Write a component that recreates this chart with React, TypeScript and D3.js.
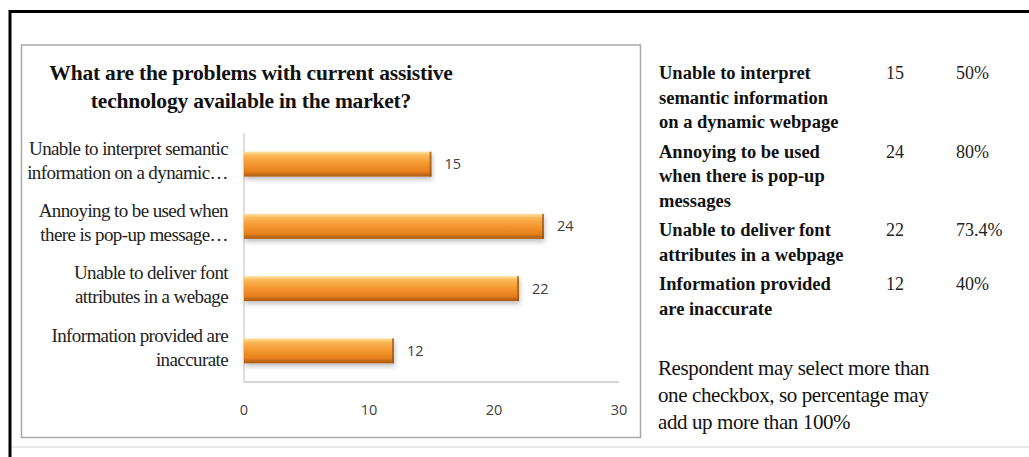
import React from "react";
import * as d3 from "d3";

const titleLines = [
  "What are the problems with current assistive",
  "technology available in the market?",
];
const categories = ["c1", "c2", "c3", "c4"];
const categoryLabels = [
  ["Unable to interpret semantic", "information on a dynamic…"],
  ["Annoying to be used when", "there is pop-up message…"],
  ["Unable to deliver font", "attributes in a webage"],
  ["Information provided are", "inaccurate"],
];
const values = [15, 24, 22, 12];
const xTicks = [0, 10, 20, 30];

const tableLabels = [
  ["Unable to interpret", "semantic information", "on a dynamic webpage"],
  ["Annoying to be used", "when there is pop-up", "messages"],
  ["Unable to deliver font", "attributes in a webpage"],
  ["Information provided", "are inaccurate"],
];
const tableCounts = [15, 24, 22, 12];
const tablePercents = ["50%", "80%", "73.4%", "40%"];
const noteLines = [
  "Respondent may select more than",
  "one checkbox, so percentage may",
  "add up more than 100%",
];

const W = 1029;
const H = 457;
const serif = "'Liberation Serif', 'DejaVu Serif', serif";
const sans = "'Open Sans', 'Liberation Sans', sans-serif";

export default function App() {
  const x = d3.scaleLinear().domain([0, 30]).range([244, 619]);
  const y = d3
    .scaleBand<string>()
    .domain(categories)
    .range([133, 382])
    .paddingInner(0.6)
    .paddingOuter(0.3);
  const bw = y.bandwidth();

  // table layout
  const tableTop = 73;
  const lineH = 24.5;
  const itemGap = 5;
  let cursor = 0;
  const tableRows = tableLabels.map((lines, i) => {
    const start = cursor;
    cursor += lines.length;
    return { lines, start, i };
  });
  const rowY = (start: number, i: number, j: number) =>
    tableTop + (start + j) * lineH + i * itemGap;

  return (
    <svg
      width={W}
      height={H}
      style={{ position: "absolute", left: 0, top: 0, background: "#fff" }}
    >
      <defs>
        <linearGradient id="barGrad" x1="0" y1="0" x2="0" y2="1">
          <stop offset="0%" stopColor="#fde3a0" />
          <stop offset="15%" stopColor="#fbb858" />
          <stop offset="45%" stopColor="#f59a32" />
          <stop offset="80%" stopColor="#e57f1c" />
          <stop offset="100%" stopColor="#a65812" />
        </linearGradient>
        <filter id="shadow" x="-5%" y="-30%" width="115%" height="180%">
          <feGaussianBlur in="SourceAlpha" stdDeviation="2.5" />
          <feOffset dx="1" dy="3" result="b" />
          <feComponentTransfer>
            <feFuncA type="linear" slope="0.25" />
          </feComponentTransfer>
          <feMerge>
            <feMergeNode />
            <feMergeNode in="SourceGraphic" />
          </feMerge>
        </filter>
      </defs>

      {/* outer frame */}
      <line x1={10} y1={11.5} x2={W} y2={11.5} stroke="#000" strokeWidth={3} />
      <line x1={10} y1={10} x2={10} y2={H} stroke="#000" strokeWidth={3} />
      <line x1={12} y1={447} x2={W} y2={447} stroke="#e2e2e2" strokeWidth={1.5} />

      {/* chart box */}
      <rect
        x={21.5}
        y={45}
        width={619}
        height={392.5}
        fill="#fff"
        stroke="#a9a9a9"
        strokeWidth={1.5}
      />

      {/* title */}
      {titleLines.map((t, i) => (
        <text
          key={t}
          x={251}
          y={72 + i * 28}
          dy="0.35em"
          textAnchor="middle"
          fontFamily={serif}
          fontWeight="bold"
          fontSize={21.5}
          letterSpacing={-0.2}
          fill="#111"
        >
          {t}
        </text>
      ))}

      {/* axes */}
      <line x1={x(0)} y1={133} x2={x(0)} y2={382} stroke="#c8c8c8" strokeWidth={1.2} />
      <line x1={x(0)} y1={382} x2={x(30)} y2={382} stroke="#c8c8c8" strokeWidth={1.5} />
      {xTicks.map((t) => (
        <text
          key={t}
          x={x(t)}
          y={410}
          dy="0.35em"
          textAnchor="middle"
          fontFamily={sans}
          fontSize={14.5}
          fill="#404040"
        >
          {t}
        </text>
      ))}

      {/* bars */}
      {categories.map((c, i) => {
        const y0 = y(c)!;
        const cy = y0 + bw / 2;
        return (
          <g key={c}>
            <rect
              x={x(0)}
              y={y0}
              width={x(values[i]) - x(0)}
              height={bw}
              fill="url(#barGrad)"
              filter="url(#shadow)"
            />
            <rect
              x={x(values[i]) - 2}
              y={y0}
              width={2}
              height={bw}
              fill="#9a540f"
              opacity={0.7}
            />
            <text
              x={x(values[i]) + 13}
              y={cy}
              dy="0.35em"
              fontFamily={sans}
              fontSize={14.5}
              fill="#404040"
            >
              {values[i]}
            </text>
            {categoryLabels[i].map((l, j) => (
              <text
                key={l}
                x={228}
                y={cy - 4 + (j - (categoryLabels[i].length - 1) / 2) * 24}
                dy="0.35em"
                textAnchor="end"
                fontFamily={serif}
                fontSize={19}
                letterSpacing={-0.6}
                fill="#222"
              >
                {l}
              </text>
            ))}
          </g>
        );
      })}

      {/* table */}
      {tableRows.map(({ lines, start, i }) => (
        <g key={i}>
          {lines.map((l, j) => (
            <text
              key={l}
              x={659}
              y={rowY(start, i, j)}
              dy="0.35em"
              fontFamily={serif}
              fontWeight="bold"
              fontSize={18.5}
              fill="#111"
            >
              {l}
            </text>
          ))}
          <text
            x={886}
            y={rowY(start, i, 0)}
            dy="0.35em"
            fontFamily={serif}
            fontSize={18}
            fill="#222"
          >
            {tableCounts[i]}
          </text>
          <text
            x={956}
            y={rowY(start, i, 0)}
            dy="0.35em"
            fontFamily={serif}
            fontSize={18}
            fill="#222"
          >
            {tablePercents[i]}
          </text>
        </g>
      ))}

      {/* note */}
      {noteLines.map((l, i) => (
        <text
          key={l}
          x={658}
          y={368 + i * 27}
          dy="0.35em"
          fontFamily={serif}
          fontSize={21}
          letterSpacing={-0.4}
          fill="#111"
        >
          {l}
        </text>
      ))}
    </svg>
  );
}
